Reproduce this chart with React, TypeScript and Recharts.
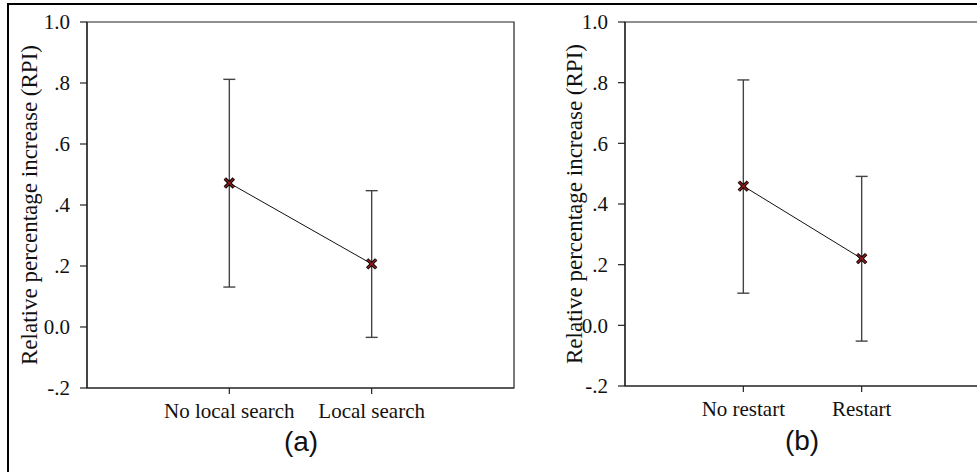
import React from 'react';
import { ComposedChart, Line, XAxis, YAxis, ErrorBar, ReferenceArea } from 'recharts';

// ---- data ----
const catsA = ['No local search', 'Local search'];
const meanA = [0.472, 0.207];
const lowA = [0.131, -0.034];
const highA = [0.812, 0.447];

const catsB = ['No restart', 'Restart'];
const meanB = [0.459, 0.22];
const lowB = [0.106, -0.052];
const highB = [0.809, 0.491];

const yTicks = [-0.2, 0, 0.2, 0.4, 0.6, 0.8, 1.0];
const yTickLabels = ['-.2', '0.0', '.2', '.4', '.6', '.8', '1.0'];
const yLabel = 'Relative percentage increase (RPI)';
const panelCaptions = ['(a)', '(b)'];

const build = (cats: string[], mean: number[], low: number[], high: number[]) =>
  cats.map((c, i) => ({
    x: i + 1,
    name: c,
    value: mean[i],
    err: [mean[i] - low[i], high[i] - mean[i]],
  }));

const dataA = build(catsA, meanA, lowA, highA);
const dataB = build(catsB, meanB, lowB, highB);

const SERIF = 'Liberation Serif, Times New Roman, serif';
const SANS = 'Liberation Sans, Arial, sans-serif';
const AXIS = '#222';

const XMark = (props: any) => {
  const { cx, cy } = props;
  if (cx == null || cy == null) return null;
  const s = 4.5;
  const d = `M${cx - s},${cy - s}L${cx + s},${cy + s}M${cx - s},${cy + s}L${cx + s},${cy - s}`;
  return (
    <g>
      <path d={d} stroke="#000" strokeWidth={3.4} fill="none" />
      <path d={d} stroke="#8b1a1a" strokeWidth={1.5} fill="none" />
    </g>
  );
};

const fmtY = (v: number) => {
  const i = yTicks.findIndex((t) => Math.abs(t - v) < 1e-6);
  return i >= 0 ? yTickLabels[i] : String(v);
};

const makeYLabel = (dx: number) => (props: any) => {
  const vb = props.viewBox || {};
  const x = (vb.x || 0) + dx;
  const y = (vb.y || 0) + (vb.height || 0) / 2;
  return (
    <text
      x={x}
      y={y}
      transform={`rotate(-90, ${x}, ${y})`}
      textAnchor="middle"
      dominantBaseline="central"
      style={{ fontFamily: SERIF, fontSize: 23 }}
      fill="#111"
    >
      {yLabel}
    </text>
  );
};

const tickStyle = { fontFamily: SERIF, fontSize: 21, fill: '#111', style: { fontFamily: SERIF } };

type PanelProps = {
  data: any[];
  cats: string[];
  width: number;
  height: number;
  margin: any;
  yAxisWidth: number;
  labelDx: number;
};

const Panel = ({ data, cats, width, height, margin, yAxisWidth, labelDx }: PanelProps) => (
  <ComposedChart width={width} height={height} data={data} margin={margin} style={{ fontFamily: SERIF }}>
    <XAxis
      dataKey="x"
      type="number"
      domain={[0, 3]}
      ticks={[1, 2]}
      tickFormatter={(v: number) => cats[v - 1] ?? ''}
      axisLine={{ stroke: AXIS, strokeWidth: 1.2 }}
      tickLine={{ stroke: AXIS, strokeWidth: 1.2 }}
      tickSize={6}
      tickMargin={9}
      tick={tickStyle}
      height={40}
      interval={0}
    />
    <YAxis
      type="number"
      domain={[-0.2, 1.0]}
      ticks={yTicks}
      tickFormatter={fmtY}
      axisLine={{ stroke: AXIS, strokeWidth: 1.2 }}
      tickLine={{ stroke: AXIS, strokeWidth: 1.2 }}
      tickSize={7}
      tickMargin={10}
      tick={tickStyle}
      width={yAxisWidth}
      interval={0}
      label={{ content: makeYLabel(labelDx) }}
    />
    <ReferenceArea
      x1={0}
      x2={3}
      y1={-0.2}
      y2={1.0}
      fill="none"
      fillOpacity={0}
      stroke={AXIS}
      strokeWidth={1.2}
      ifOverflow="visible"
    />
    <Line
      dataKey="value"
      stroke="#111"
      strokeWidth={1}
      isAnimationActive={false}
      dot={<XMark />}
      activeDot={false}
    >
      <ErrorBar dataKey="err" width={6} stroke="#444" strokeWidth={1.4} direction="y" />
    </Line>
  </ComposedChart>
);

export default function App() {
  return (
    <div
      style={{
        position: 'fixed',
        left: 0,
        top: 0,
        width: 977,
        height: 472,
        overflow: 'hidden',
        background: '#fff',
        fontFamily: SERIF,
      }}
    >
      <div
        style={{
          position: 'absolute',
          left: 7,
          top: 3,
          width: 1000,
          height: 500,
          borderLeft: '2px solid #000',
          borderTop: '2px solid #000',
        }}
      />
      <div style={{ position: 'absolute', left: 0, top: 0 }}>
        <Panel
          data={dataA}
          cats={catsA}
          width={520}
          height={472}
          margin={{ top: 22, right: 6, bottom: 44, left: 0 }}
          yAxisWidth={87}
          labelDx={29}
        />
      </div>
      <div style={{ position: 'absolute', left: 487, top: 0 }}>
        <Panel
          data={dataB}
          cats={catsB}
          width={500}
          height={472}
          margin={{ top: 22, right: 7, bottom: 46, left: 0 }}
          yAxisWidth={138}
          labelDx={87}
        />
      </div>
      <div
        style={{
          position: 'absolute',
          left: 301,
          top: 442,
          transform: 'translate(-50%, -50%)',
          fontFamily: SANS,
          fontSize: 28,
          color: '#111',
          lineHeight: 1,
        }}
      >
        {panelCaptions[0]}
      </div>
      <div
        style={{
          position: 'absolute',
          left: 802,
          top: 441,
          transform: 'translate(-50%, -50%)',
          fontFamily: SANS,
          fontSize: 28,
          color: '#111',
          lineHeight: 1,
        }}
      >
        {panelCaptions[1]}
      </div>
    </div>
  );
}
